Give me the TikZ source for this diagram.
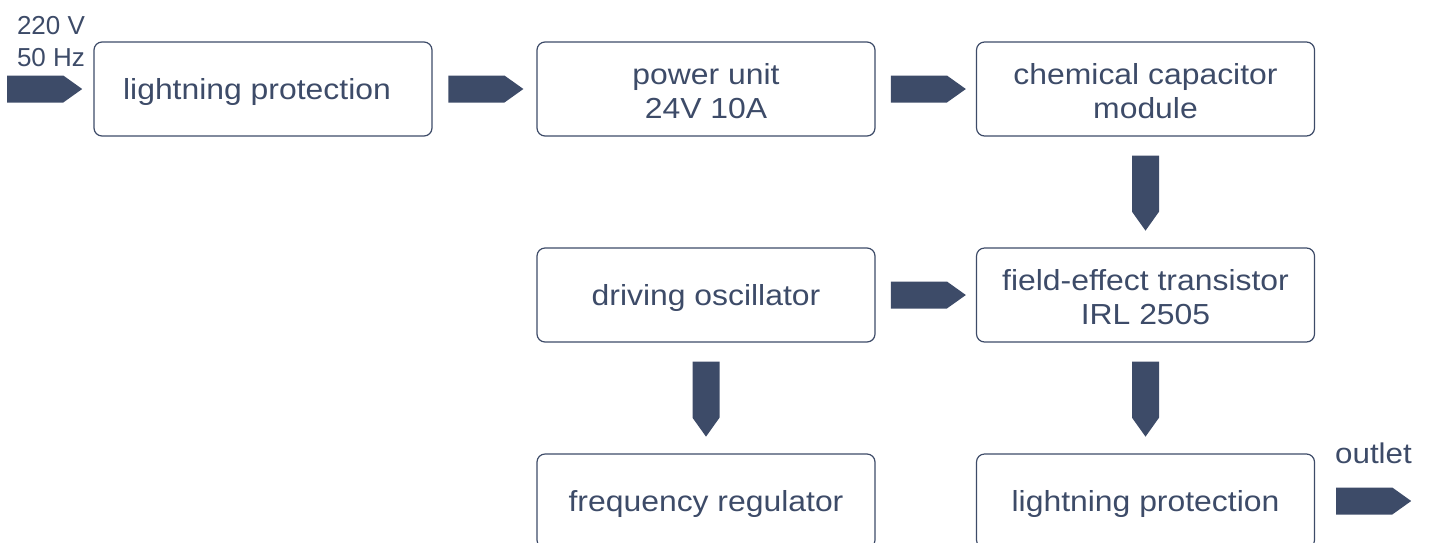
\documentclass[tikz,border=0pt]{standalone}
\usepackage{fontspec}
\setmainfont[FakeStretch=1.1]{Liberation Sans}
\newfontfamily\labelfont{Liberation Sans}
\usetikzlibrary{shapes.arrows}
\definecolor{navy}{RGB}{61,75,104}
\newcommand{\topstrut}{\rule{0pt}{26pt}}
\begin{document}
\begin{tikzpicture}[x=1pt,y=-1pt,
  box/.style={draw=navy, line width=1.2pt, rounded corners=8pt,
    minimum width=338pt, minimum height=94pt, inner sep=0pt,
    align=center, text=navy, font=\fontsize{29}{34}\selectfont},
  onebox/.style={box, text height=27pt, text depth=7pt},
  barrow/.style={single arrow, single arrow head extend=0pt,
    single arrow tip angle=71, minimum height=75pt, minimum width=27pt,
    inner sep=0pt, fill=navy, draw=none, anchor=tail},
  hbar/.style={barrow, sloped, pos=0.15},
  vbar/.style={barrow, sloped, pos=0.17},
  lbl/.style={text=navy, inner sep=0pt}]
\useasboundingbox (0,0) rectangle (1429,542);
\clip (0,0) rectangle (1429,542);

% boxes
\node[onebox] (lp1)  at (263,89)    {\hspace*{-12pt}lightning protection};
\node[box] (pu)   at (706,89)    {\topstrut power unit\\24V 10A};
\node[box] (chem) at (1145.5,89) {\topstrut chemical capacitor\\module};
\node[onebox] (osc)  at (706,295)   {driving oscillator};
\node[box] (fet)  at (1145.5,295) {\topstrut field-effect transistor\\IRL 2505};
\node[onebox] (freq) at (706,501)   {frequency regulator};
\node[onebox] (lp2)  at (1145.5,501) {lightning protection};

% connectors (block arrows)
\path (lp1.east) -- node[hbar] (a1) {} (pu.west);
\path (pu.east) -- node[hbar] (a2) {} (chem.west);
\path (chem.south) -- node[vbar] (a3) {} (fet.north);
\path (osc.east) -- node[hbar] (a4) {} (fet.west);
\path (osc.south) -- node[vbar] (a5) {} (freq.north);
\path (fet.south) -- node[vbar] (a6) {} (lp2.north);

% input and output
\node[barrow] (ain) at (7,89) {};
\node[barrow] (aout) at (1336,501) {};

% labels
\node[lbl, anchor=base, font=\labelfont\fontsize{26}{30}\selectfont] (v220) at (51,34) {220 V};
\node[lbl, anchor=base, font=\labelfont\fontsize{26}{30}\selectfont] (hz50) at (51,66) {50 Hz};
\node[lbl, anchor=base, font=\fontsize{28.5}{34}\selectfont] (outl) at (1373.5,463) {outlet};
\end{tikzpicture}
\end{document}
